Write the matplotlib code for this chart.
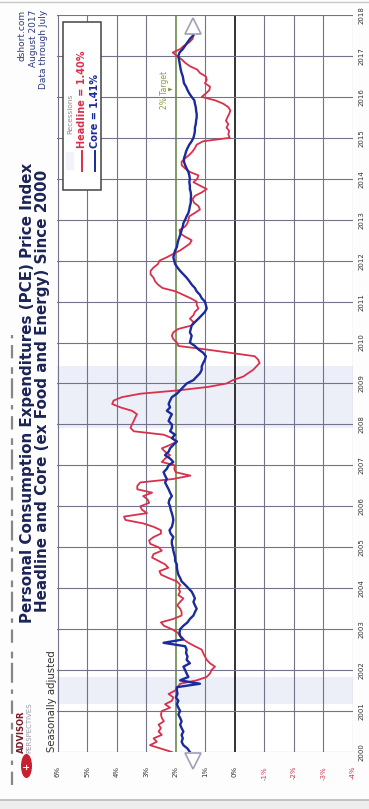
import numpy as np
import matplotlib.pyplot as plt
from matplotlib.patches import Rectangle, Circle
from matplotlib.lines import Line2D

# Year-over-year change, monthly, Jan 2000 - Jul 2017
headline = [
    2.13, 2.50, 2.87, 2.64, 2.75, 2.47, 2.58, 2.50, 2.58, 2.40, 2.47, 2.50,   # 2000
    2.47, 2.19, 2.36, 2.13, 2.08, 2.24, 2.02, 1.94, 1.85, 1.29, 0.95, 0.84,   # 2001
    0.79, 0.67, 0.84, 0.95, 1.01, 1.07, 1.12, 1.35, 1.57, 1.74, 1.85, 1.94,   # 2002
    2.13, 2.40, 2.50, 2.08, 1.80, 1.80, 1.85, 1.95, 1.85, 1.74, 1.91, 1.85,   # 2003
    1.90, 1.85, 1.96, 2.25, 2.50, 2.55, 2.25, 2.36, 2.58, 2.80, 2.75, 2.47,   # 2004
    2.58, 2.86, 2.90, 2.75, 2.50, 2.50, 2.75, 3.10, 3.70, 3.75, 2.97, 3.14,   # 2005
    3.20, 2.90, 2.95, 3.10, 2.80, 3.30, 3.30, 3.20, 2.10, 1.50, 2.00, 2.05,   # 2006
    2.02, 2.47, 2.36, 2.19, 2.36, 2.47, 2.19, 1.96, 2.13, 2.41, 3.42, 3.53,   # 2007
    3.48, 3.42, 3.37, 3.31, 3.48, 3.87, 4.15, 4.10, 3.82, 3.20, 1.90, 0.90,   # 2008
    0.28, 0.06, -0.28, -0.45, -0.62, -0.73, -0.84, -0.79, -0.67, 0.17, 0.99, 1.91,  # 2009
    1.96, 2.08, 2.13, 2.08, 1.91, 1.46, 1.40, 1.52, 1.40, 1.35, 1.23, 1.29,   # 2010
    1.29, 1.50, 1.75, 2.00, 2.45, 2.60, 2.70, 2.75, 2.85, 2.85, 2.75, 2.60,   # 2011
    2.55, 2.30, 2.08, 1.85, 1.68, 1.52, 1.46, 1.68, 1.85, 1.87, 1.68, 1.60,   # 2012
    1.57, 1.54, 1.35, 1.18, 1.23, 1.38, 1.43, 1.35, 1.12, 0.95, 1.18, 1.40,   # 2013
    1.27, 1.23, 1.52, 1.68, 1.80, 1.80, 1.68, 1.54, 1.43, 1.35, 1.29, 1.07,   # 2014
    0.17, 0.22, 0.19, 0.28, 0.22, 0.30, 0.25, 0.19, 0.15, 0.22, 0.39, 0.67,   # 2015
    1.12, 0.98, 0.86, 0.84, 1.01, 0.95, 0.98, 1.18, 1.27, 1.52, 1.68, 1.80,   # 2016
    1.96, 2.10, 1.85, 1.72, 1.54, 1.43, 1.40,                                 # 2017
]

core = [
    1.52, 1.60, 1.74, 1.80, 1.76, 1.80, 1.74, 1.80, 1.85, 1.80, 1.85, 1.91,   # 2000
    1.85, 1.91, 1.96, 1.91, 1.99, 1.94, 1.96, 1.96, 1.18, 1.85, 1.57, 1.63,   # 2001
    1.68, 1.74, 1.52, 1.63, 1.60, 1.65, 1.63, 1.68, 2.41, 1.74, 1.85, 1.87,   # 2002
    1.85, 1.74, 1.60, 1.52, 1.40, 1.35, 1.29, 1.35, 1.40, 1.35, 1.40, 1.46,   # 2003
    1.57, 1.68, 1.80, 1.85, 1.91, 1.94, 1.96, 1.96, 2.02, 2.02, 2.05, 2.08,   # 2004
    2.10, 2.13, 2.13, 2.08, 2.17, 2.21, 2.13, 2.10, 2.08, 2.10, 2.13, 2.17,   # 2005
    2.19, 2.24, 2.21, 2.13, 2.19, 2.24, 2.30, 2.36, 2.30, 2.36, 2.41, 2.30,   # 2006
    2.24, 2.08, 2.19, 2.36, 2.24, 2.19, 2.08, 1.96, 2.13, 2.02, 2.19, 2.13,   # 2007
    2.13, 2.24, 2.19, 2.13, 2.30, 2.19, 2.24, 2.19, 2.13, 1.96, 1.85, 1.74,   # 2008
    1.63, 1.40, 1.29, 1.18, 1.12, 1.12, 1.07, 1.01, 0.98, 1.07, 1.23, 1.35,   # 2009
    1.52, 1.49, 1.46, 1.52, 1.49, 1.46, 1.35, 1.23, 1.12, 1.01, 0.95, 0.98,   # 2010
    1.01, 1.12, 1.18, 1.29, 1.35, 1.46, 1.54, 1.63, 1.74, 1.85, 1.94, 2.02,   # 2011
    2.05, 2.08, 2.05, 2.02, 1.96, 1.94, 1.91, 1.87, 1.83, 1.80, 1.76, 1.74,   # 2012
    1.68, 1.63, 1.57, 1.54, 1.52, 1.49, 1.49, 1.48, 1.49, 1.52, 1.52, 1.54,   # 2013
    1.52, 1.54, 1.57, 1.63, 1.68, 1.72, 1.72, 1.68, 1.65, 1.60, 1.54, 1.46,   # 2014
    1.40, 1.37, 1.35, 1.35, 1.32, 1.31, 1.29, 1.29, 1.31, 1.32, 1.35, 1.37,   # 2015
    1.46, 1.54, 1.60, 1.65, 1.72, 1.74, 1.76, 1.80, 1.83, 1.85, 1.87, 1.89,   # 2016
    1.91, 1.87, 1.76, 1.68, 1.60, 1.52, 1.41,                                 # 2017
]

recessions = [(2001.17, 2001.83), (2007.92, 2009.42)]
pct_ticks = list(range(6, -5, -1))
pct_labels = [f"{v}%" for v in pct_ticks]
year_ticks = list(range(2000, 2019))
latest_headline = 1.40
latest_core = 1.41
target = 2.0

dates = 2000 + np.arange(len(headline)) / 12.0

W, H = 369, 809
fig = plt.figure(figsize=(W / 100, H / 100), dpi=100)
fig.patch.set_facecolor('#fdfdfd')

def fx(px):
    return px / W

def fy(py):
    return 1 - py / H

# page edges
fig.patches.append(Rectangle((0, 0), 1, fy(800), transform=fig.transFigure,
                             facecolor='#eeeeee', edgecolor='none', zorder=0))
fig.add_artist(Line2D([0, 1], [fy(800), fy(800)], transform=fig.transFigure,
                      color='#b8b8b8', lw=1.2))
fig.add_artist(Line2D([0, 1], [fy(1.5), fy(1.5)], transform=fig.transFigure,
                      color='#c8c8c8', lw=1.0))
# clipped line of the preceding page text along the left edge
fig.add_artist(Line2D([fx(12), fx(12)], [fy(785), fy(335)], transform=fig.transFigure,
                      color='#555555', lw=1.6, alpha=0.7,
                      dashes=(6, 3, 2, 3, 9, 2, 3, 4)))

ax = fig.add_axes([fx(57.5), 1 - 752 / H, 295.5 / W, 737 / H])
ax.set_facecolor('white')
ax.set_xlim(6, -4)
ax.set_ylim(2000, 2018)

grid_c = '#72728c'
for lo, hi in recessions:
    ax.axhspan(lo, hi, color='#eceef8', lw=0, zorder=0)
for v in pct_ticks:
    if v == 0:
        ax.axvline(v, color='#222222', lw=1.3, zorder=1)
    elif v == target:
        ax.axvline(v, color='#6d8a4e', lw=1.2, zorder=1)
    else:
        ax.axvline(v, color=grid_c, lw=0.8, zorder=1)
for yr in year_ticks:
    ax.axhline(yr, color=grid_c, lw=0.8, zorder=1)
for s in ax.spines.values():
    s.set_visible(False)

ax.plot(headline, dates, color='#d9304c', lw=1.3, zorder=3)
ax.plot(core, dates, color='#1b2a9c', lw=1.7, zorder=4)

# latest-value markers
ax.plot([latest_headline], [2017.72], marker='^', ms=11, mfc='white',
        mec='#a0a0b8', mew=1.2, zorder=5, clip_on=False)
ax.plot([latest_headline], [1999.78], marker='v', ms=11, mfc='white',
        mec='#a0a0b8', mew=1.2, zorder=5, clip_on=False)

# target note
ax.text(2.39, 2016.18, "2% Target", rotation=90, ha='center', va='center',
        fontsize=5.5, color='#8a9a48')
ax.annotate('', xy=(2.02, 2016.18), xytext=(2.25, 2016.18),
            arrowprops=dict(arrowstyle='-|>', color='#8a9a48', lw=0.6,
                            mutation_scale=5))

# ticks
ax.set_xticks(pct_ticks)
ax.set_xticklabels(pct_labels, rotation=90, fontsize=5, color='#333333')
for lab, v in zip(ax.get_xticklabels(), pct_ticks):
    if v < 0:
        lab.set_color('#d33a55')
ax.yaxis.tick_right()
ax.set_yticks(year_ticks)
ax.set_yticklabels([str(y) for y in year_ticks], rotation=90, fontsize=5,
                   color='#333333', va='center')
ax.tick_params(axis='x', length=0, pad=10)
ax.tick_params(axis='y', length=0, pad=4)

# titles
navy = '#1c2356'
fig.text(fx(28), fy(393), "Personal Consumption Expenditures (PCE) Price Index",
         rotation=90, ha='center', va='center', fontsize=10.9, fontweight='bold',
         color=navy)
fig.text(fx(43), fy(391), "Headline and Core (ex Food and Energy) Since 2000",
         rotation=90, ha='center', va='center', fontsize=10.9, fontweight='bold',
         color=navy)

# source block
for px, s in [(22, "dshort.com"), (33, "August 2017"), (44, "Data through July")]:
    fig.text(fx(px), fy(10), s, rotation=90, ha='center', va='top',
             fontsize=6.5, color='#2b3a7e')

fig.text(fx(52), fy(752), "Seasonally adjusted", rotation=90, ha='center',
         va='bottom', fontsize=7.3, color='#333333')

# logo
fig.patches.append(Circle((fx(26.5), fy(766)), 5.5 / W, transform=fig.transFigure,
                          facecolor='#c8202e', edgecolor='none'))
fig.text(fx(26.5), fy(766), "+", rotation=90, ha='center', va='center',
         fontsize=6, color='white', fontweight='bold')
fig.text(fx(21.5), fy(753), "ADVISOR", rotation=90, ha='center', va='bottom',
         fontsize=6, color='#7a1a2a', fontweight='bold')
fig.text(fx(29.5), fy(753), "PERSPECTIVES", rotation=90, ha='center', va='bottom',
         fontsize=5, color='#9a9aa8')

# legend
fig.patches.append(Rectangle((fx(63), fy(190)), (101 - 63) / W, (190 - 22) / H,
                             transform=fig.transFigure, facecolor='white',
                             edgecolor='#444444', lw=1.1, zorder=6))
fig.patches.append(Rectangle((fx(66), fy(170)), 8 / W, 18 / H,
                             transform=fig.transFigure, facecolor='#f2f3fa',
                             edgecolor='none', zorder=7))
fig.text(fx(70), fy(134), "Recessions", rotation=90, ha='center', va='bottom',
         fontsize=5.3, color='#8a8a8a', zorder=7)
for px, col, s in [(82, '#d9304c', f"Headline = {latest_headline:.2f}%"),
                   (95, '#1b2a9c', f"Core = {latest_core:.2f}%")]:
    fig.add_artist(Line2D([fx(px), fx(px)], [fy(171), fy(151)],
                          transform=fig.transFigure, color=col, lw=1.4, zorder=7))
    fig.text(fx(px), fy(148), s, rotation=90, ha='center', va='bottom',
             fontsize=7, color=col, fontweight='bold', zorder=7)

fig.savefig('out.png', dpi=100, facecolor=fig.get_facecolor())
